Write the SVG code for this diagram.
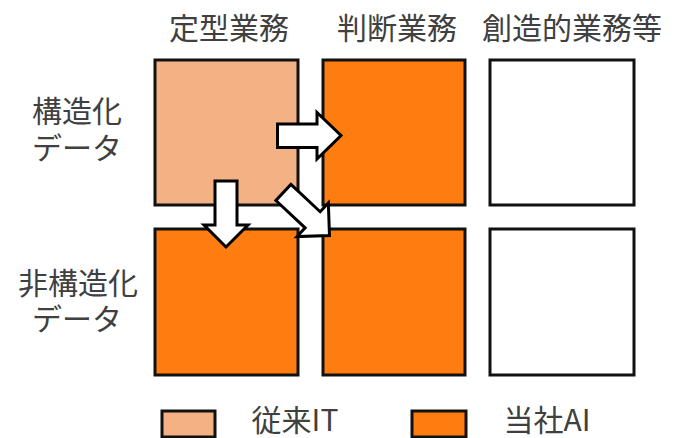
<svg xmlns="http://www.w3.org/2000/svg" width="674" height="438" viewBox="0 0 674 438">
<style>
.t{font-family:"Noto Sans CJK JP","Noto Sans",sans-serif;font-size:30px;fill:#404040;text-anchor:middle}
.b{stroke:#111;stroke-width:3}
.lt{fill:#F4B183}
.or{fill:#FF7C11}
.wh{fill:#fff}
.ar{fill:#fff;stroke:#000;stroke-width:3;stroke-linejoin:miter}
</style>
<rect width="674" height="438" fill="#fff"/>
<g id="headers">
<text class="t" x="229" y="39">定型業務</text>
<text class="t" x="397" y="39">判断業務</text>
<text class="t" x="572" y="39">創造的業務等</text>
</g>
<g id="rowlabels">
<text class="t" x="77" y="122">構造化</text>
<text class="t" x="77" y="159">データ</text>
<text class="t" x="78" y="294">非構造化</text>
<text class="t" x="77" y="330">データ</text>
</g>
<g id="n11"><rect class="b lt" x="155" y="60" width="143" height="145"/></g>
<g id="n12"><rect class="b or" x="323" y="60" width="142" height="145"/></g>
<g id="n13"><rect class="b wh" x="490" y="60" width="144" height="145"/></g>
<g id="n21"><rect class="b or" x="155" y="229" width="143" height="146"/></g>
<g id="n22"><rect class="b or" x="323" y="229" width="142" height="146"/></g>
<g id="n23"><rect class="b wh" x="490" y="229" width="144" height="146"/></g>
<g id="connectors">
<polygon class="ar" points="277.5,124 317,124 317,112.5 341,135.5 317,159 317,147.5 277.5,147.5"/>
<polygon class="ar" points="215,181 237,181 237,225 248,225 226,247 204,225 215,225"/>
<polygon class="ar" points="0,-11 40,-11 40,-23 63,0 40,23 40,11 0,11" transform="translate(283.4,192.5) rotate(43)"/>
</g>
<g id="legend">
<rect class="b lt" x="162" y="411" width="53" height="26"/>
<text class="t" x="295" y="431">従来IT</text>
<rect class="b or" x="412" y="411" width="54" height="26"/>
<text class="t" x="547" y="431">当社AI</text>
</g>
</svg>
